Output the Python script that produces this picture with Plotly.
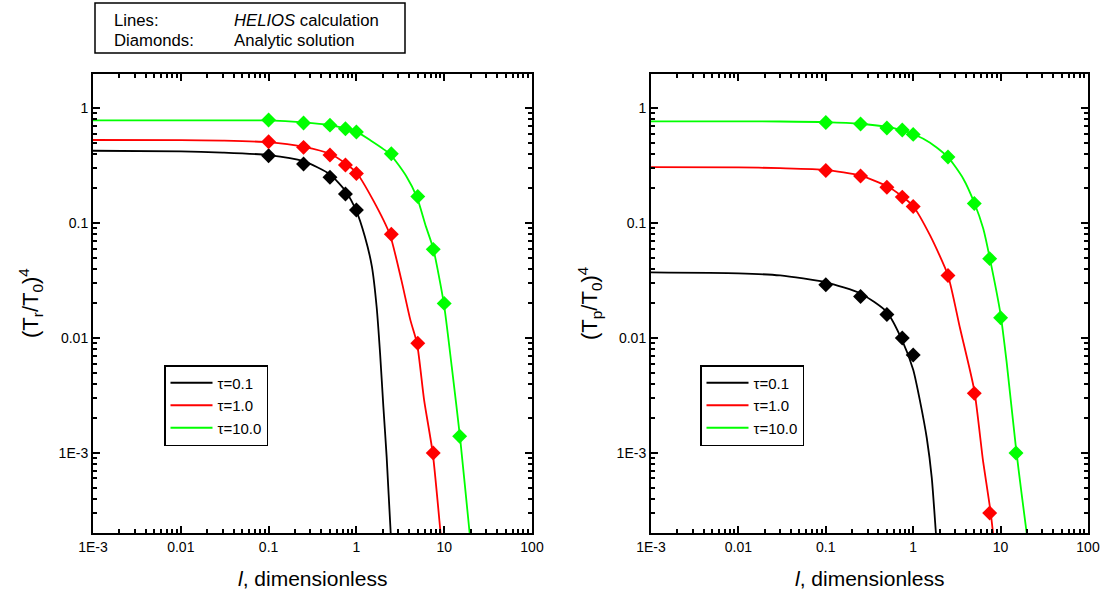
import plotly.graph_objects as go

W, H = 1104, 596

# ---------------- data ----------------
# Left panel: (T_r/T_0)^4
L_black_x = [0.001, 0.01, 0.03, 0.1, 0.25, 0.5, 0.75, 1.0, 1.25, 1.5, 1.7, 1.86, 2.03, 2.21, 2.46, 2.6]
L_black_y = [0.425, 0.42, 0.41, 0.39, 0.345, 0.265, 0.19, 0.127, 0.076, 0.042, 0.0187, 0.0074, 0.0025, 0.00093, 0.0002, 0.00011]
L_red_x = [0.001, 0.01, 0.03, 0.1, 0.25, 0.5, 0.75, 1.0, 1.55, 2.41, 3.25, 4.12, 4.9, 5.9, 7.4, 9.1, 9.6]
L_red_y = [0.527, 0.525, 0.52, 0.505, 0.46, 0.40, 0.33, 0.275, 0.158, 0.079, 0.032, 0.0143, 0.009, 0.0029, 0.001, 0.0002, 0.00013]
L_green_x = [0.001, 0.01, 0.03, 0.1, 0.25, 0.5, 0.75, 1.0, 1.43, 2.41, 3.73, 4.9, 6.2, 7.5, 9.9, 12.2, 15.1, 19.5, 21.0]
L_green_y = [0.78, 0.78, 0.78, 0.78, 0.75, 0.71, 0.665, 0.62, 0.527, 0.398, 0.253, 0.167, 0.093, 0.06, 0.02, 0.0056, 0.0014, 0.0002, 0.00012]

L_black_dx = [0.1, 0.25, 0.5, 0.75, 1.0]
L_black_dy = [0.385, 0.326, 0.25, 0.179, 0.13]
L_red_dx = [0.1, 0.25, 0.5, 0.75, 1.0, 2.5, 5, 7.5]
L_red_dy = [0.51, 0.455, 0.39, 0.32, 0.27, 0.08, 0.009, 0.001]
L_green_dx = [0.1, 0.25, 0.5, 0.75, 1.0, 2.5, 5, 7.5, 10, 15]
L_green_dy = [0.787, 0.74, 0.71, 0.66, 0.62, 0.40, 0.17, 0.059, 0.02, 0.0014]

# Right panel: (T_p/T_0)^4
R_black_x = [0.001, 0.01, 0.03, 0.1, 0.25, 0.5, 0.75, 1.0, 1.2, 1.43, 1.63, 1.82, 1.9]
R_black_y = [0.0372, 0.0365, 0.035, 0.0305, 0.0244, 0.0168, 0.0095, 0.0053, 0.0028, 0.00135, 0.00061, 0.0002, 0.00013]
R_red_x = [0.001, 0.01, 0.03, 0.1, 0.25, 0.5, 0.75, 1.0, 1.56, 2.5, 3.43, 5.0, 6.3, 7.5, 8.2, 8.6]
R_red_y = [0.306, 0.305, 0.30, 0.29, 0.258, 0.21, 0.17, 0.14, 0.078, 0.035, 0.0122, 0.0035, 0.00085, 0.00035, 0.0002, 0.00013]
R_green_x = [0.001, 0.01, 0.03, 0.1, 0.25, 0.5, 0.75, 1.0, 1.56, 2.5, 3.74, 5.0, 6.34, 7.5, 10, 11.7, 15, 17.4, 19.9, 21]
R_green_y = [0.767, 0.766, 0.764, 0.755, 0.73, 0.685, 0.64, 0.595, 0.50, 0.374, 0.243, 0.15, 0.089, 0.05, 0.016, 0.00625, 0.0011, 0.00044, 0.0002, 0.00014]

R_black_dx = [0.1, 0.25, 0.5, 0.75, 1.0]
R_black_dy = [0.029, 0.023, 0.016, 0.01, 0.0071]
R_red_dx = [0.1, 0.25, 0.5, 0.75, 1.0, 2.5, 5, 7.5]
R_red_dy = [0.286, 0.256, 0.205, 0.168, 0.139, 0.035, 0.0033, 0.0003]
R_green_dx = [0.1, 0.25, 0.5, 0.75, 1.0, 2.5, 5, 7.5, 10, 15]
R_green_dy = [0.75, 0.727, 0.67, 0.645, 0.59, 0.375, 0.148, 0.049, 0.015, 0.001]

series_names = ["τ=0.1", "τ=1.0", "τ=10.0"]
series_colors = ["#000000", "#ff0000", "#00ff00"]

x_tickvals = [0.001, 0.01, 0.1, 1, 10, 100]
x_ticktext = ["1E-3", "0.01", "0.1", "1", "10", "100"]
y_tickvals = [0.001, 0.01, 0.1, 1]
y_ticktext = ["1E-3", "0.01", "0.1", "1"]
x_minor = [m * 10 ** e for e in range(-3, 2) for m in range(2, 10)]
y_minor = [m * 10 ** e for e in range(-4, 1) for m in range(2, 10)]

FONT = "Arial, Liberation Sans, sans-serif"

fig = go.Figure()

panels = [
    ("x", "y", "legend",
     [(L_black_x, L_black_y), (L_red_x, L_red_y), (L_green_x, L_green_y)],
     [(L_black_dx, L_black_dy), (L_red_dx, L_red_dy), (L_green_dx, L_green_dy)]),
    ("x2", "y2", "legend2",
     [(R_black_x, R_black_y), (R_red_x, R_red_y), (R_green_x, R_green_y)],
     [(R_black_dx, R_black_dy), (R_red_dx, R_red_dy), (R_green_dx, R_green_dy)]),
]

for xa, ya, leg, lines, dias in panels:
    for (lx, ly), name, col in zip(lines, series_names, series_colors):
        fig.add_trace(go.Scatter(x=lx, y=ly, mode="lines", name=name,
                                 line=dict(color=col, width=1.8, shape="spline", smoothing=0.6),
                                 xaxis=xa, yaxis=ya, legend=leg))
    for (dx, dy), col in zip(dias, series_colors):
        fig.add_trace(go.Scatter(x=dx, y=dy, mode="markers", showlegend=False,
                                 marker=dict(symbol="diamond", size=11.5, color=col, line=dict(width=0)),
                                 xaxis=xa, yaxis=ya))


def px_x(p):
    return p / W


def px_y(p):
    return 1 - p / H


y_dom = [px_y(533), px_y(74)]

axis_common = dict(showline=True, linecolor="black", linewidth=2, mirror="ticks",
                   ticks="inside", ticklen=7, tickwidth=1.5, tickcolor="black",
                   showgrid=False, zeroline=False, type="log", automargin=False,
                   tickfont=dict(family=FONT, size=14, color="black"),
                   tickmode="array")

xaxis_kw = dict(axis_common, range=[-3, 2], tickvals=x_tickvals, ticktext=x_ticktext,
                minor=dict(tickmode="array", tickvals=x_minor, ticks="inside", ticklen=4,
                           tickwidth=1.5, tickcolor="black", showgrid=False))
yaxis_kw = dict(axis_common, range=[-3.696, 0.296], tickvals=y_tickvals, ticktext=y_ticktext,
                minor=dict(tickmode="array", tickvals=y_minor, ticks="inside", ticklen=4,
                           tickwidth=1.5, tickcolor="black", showgrid=False))

legend_common = dict(bordercolor="black", borderwidth=1.5, bgcolor="white",
                     font=dict(family=FONT, size=15, color="black"),
                     xanchor="left", yanchor="top", tracegroupgap=0, itemwidth=42)

fig.update_layout(
    template="none",
    width=W, height=H,
    margin=dict(l=0, r=0, t=0, b=0, autoexpand=False),
    paper_bgcolor="white", plot_bgcolor="white",
    font=dict(family=FONT, color="black"),
    xaxis=dict(xaxis_kw, domain=[px_x(93), px_x(532)], anchor="y"),
    yaxis=dict(yaxis_kw, domain=y_dom, anchor="x"),
    xaxis2=dict(xaxis_kw, domain=[px_x(651), px_x(1088)], anchor="y2"),
    yaxis2=dict(yaxis_kw, domain=y_dom, anchor="x2"),
    legend=dict(legend_common, x=px_x(164), y=px_y(365)),
    legend2=dict(legend_common, x=px_x(700), y=px_y(365)),
    showlegend=True,
)

# top info box
fig.add_shape(type="rect", xref="paper", yref="paper",
              x0=px_x(95), x1=px_x(405), y0=px_y(53), y1=px_y(3),
              line=dict(color="black", width=1.5), fillcolor="white")

annots = [
    ("Lines:", 112, 20.5),
    ("<i>HELIOS</i> calculation", 232, 20.5),
    ("Diamonds:", 112, 40.5),
    ("Analytic solution", 232, 40.5),
]
for txt, xp, yp in annots:
    fig.add_annotation(text=txt, xref="paper", yref="paper", x=px_x(xp), y=px_y(yp),
                       xanchor="left", yanchor="middle", showarrow=False,
                       font=dict(family=FONT, size=16.7, color="black"))

# axis titles
for xc in [312.5, 869.5]:
    fig.add_annotation(text="<i>l</i>, dimensionless", xref="paper", yref="paper",
                       x=px_x(xc), y=px_y(578), xanchor="center", yanchor="middle",
                       showarrow=False, font=dict(family=FONT, size=21, color="black"))

for txt, xc in [("(T<sub>r</sub>/T<sub>0</sub>)<sup>4</sup>", 30),
                ("(T<sub>p</sub>/T<sub>0</sub>)<sup>4</sup>", 589)]:
    fig.add_annotation(text=txt, xref="paper", yref="paper",
                       x=px_x(xc), y=px_y(303), xanchor="center", yanchor="middle",
                       textangle=-90, showarrow=False,
                       font=dict(family=FONT, size=22, color="black"))

fig.write_html("out.html")
